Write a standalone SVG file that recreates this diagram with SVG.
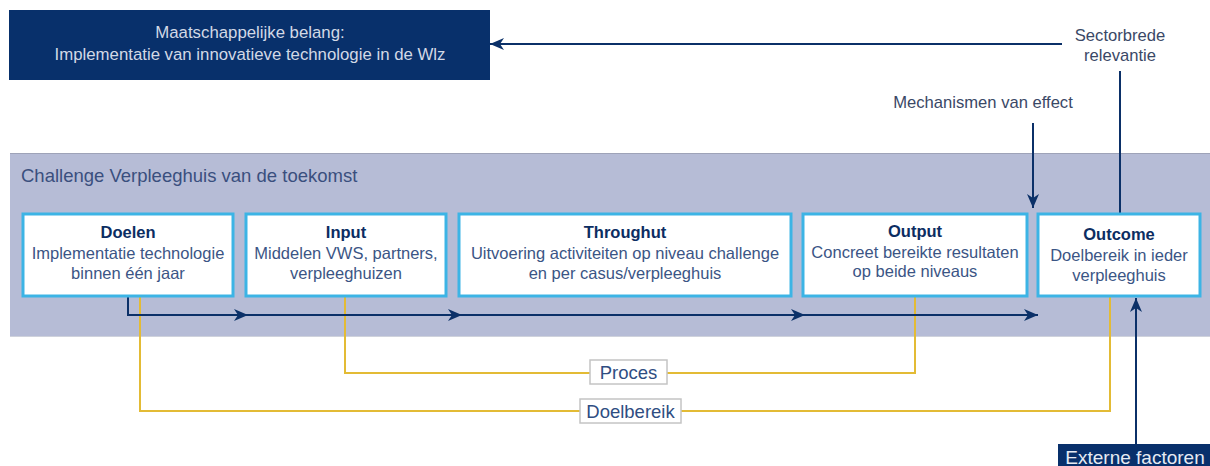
<svg xmlns="http://www.w3.org/2000/svg" width="1210" height="466" viewBox="0 0 1210 466">
<style>
text{font-family:"Liberation Sans",Arial,sans-serif}
.box{fill:#fff;stroke:#3cb4e5;stroke-width:3}
.t{font-size:16.5px;font-weight:bold;fill:#0c2d62;text-anchor:middle}
.s{font-size:16.5px;fill:#3b5585;text-anchor:middle}
.nav{stroke:#0b3068;stroke-width:2;fill:none}
.yel{stroke:#e3bb35;stroke-width:2;fill:none}
.lbl{fill:#fff;stroke:#c4c4c4;stroke-width:1.5}
.lt{font-size:18.5px;fill:#2f4d82;text-anchor:middle}
.g{font-size:16.6px;fill:#3a4866;text-anchor:middle}
</style>
<defs>
<marker id="ah" viewBox="0 0 14 12" refX="14" refY="6" markerWidth="14" markerHeight="12" markerUnits="userSpaceOnUse" orient="auto">
<path d="M0,0 L14,6 L0,12 L4,6 Z" fill="#0b3068"/>
</marker>
</defs>
<rect x="10" y="153" width="1200" height="184" fill="#b6bcd6"/>
<line x1="10" y1="153.5" x2="1210" y2="153.5" stroke="#9ea3b8" stroke-width="1"/>
<line x1="10" y1="336.5" x2="1210" y2="336.5" stroke="#cfd2dc" stroke-width="1"/>
<text x="21" y="182" font-size="18.5" fill="#3a4f7e">Challenge Verpleeghuis van de toekomst</text>
<g id="maatschappelijk">
<rect x="9" y="10" width="481" height="70" fill="#08306b"/>
<text x="250" y="38" font-size="16.8" fill="#d2d9e6" text-anchor="middle">Maatschappelijke belang:</text>
<text x="250" y="60" font-size="16.8" fill="#d2d9e6" text-anchor="middle">Implementatie van innovatieve technologie in de Wlz</text>
</g>
<g id="sectorbrede">
<text x="1120" y="41" class="g">Sectorbrede</text>
<text x="1120" y="61" class="g">relevantie</text>
</g>
<g id="mechanismen">
<text x="983" y="108" class="g">Mechanismen van effect</text>
</g>
<g id="connectors">
<line x1="1062" y1="44" x2="490" y2="44" class="nav" marker-end="url(#ah)"/>
<line x1="1120" y1="71" x2="1120" y2="213" class="nav"/>
<line x1="1033" y1="123" x2="1033" y2="208" class="nav" marker-end="url(#ah)"/>
<polyline points="140,296 140,411 1110,411 1110,296" class="yel"/>
<polyline points="345,296 345,373 915,373 915,296" class="yel"/>
<polyline points="128,296 128,315 248,315" class="nav" marker-end="url(#ah)"/>
<line x1="246" y1="315" x2="462" y2="315" class="nav" marker-end="url(#ah)"/>
<line x1="460" y1="315" x2="805" y2="315" class="nav" marker-end="url(#ah)"/>
<line x1="803" y1="315" x2="1038" y2="315" class="nav" marker-end="url(#ah)"/>
<line x1="1136" y1="444" x2="1136" y2="298" class="nav" marker-end="url(#ah)"/>
</g>
<g id="doelen">
<rect x="23" y="214" width="210" height="82" class="box"/>
<text x="128" y="238" class="t">Doelen</text>
<text x="128" y="259" class="s">Implementatie technologie</text>
<text x="128" y="279" class="s">binnen één jaar</text>
</g>
<g id="input">
<rect x="246" y="214" width="200" height="82" class="box"/>
<text x="346" y="238" class="t">Input</text>
<text x="346" y="259" class="s">Middelen VWS, partners,</text>
<text x="346" y="279" class="s">verpleeghuizen</text>
</g>
<g id="throughut">
<rect x="459" y="214" width="332" height="82" class="box"/>
<text x="625" y="238" class="t">Throughut</text>
<text x="625" y="259" class="s">Uitvoering activiteiten op niveau challenge</text>
<text x="625" y="279" class="s">en per casus/verpleeghuis</text>
</g>
<g id="output">
<rect x="803" y="214" width="224" height="82" class="box"/>
<text x="915" y="237" class="t">Output</text>
<text x="915" y="258" class="s">Concreet bereikte resultaten</text>
<text x="915" y="277" class="s">op beide niveaus</text>
</g>
<g id="outcome">
<rect x="1038" y="214" width="162" height="82" class="box"/>
<text x="1119" y="240" class="t">Outcome</text>
<text x="1119" y="261" class="s">Doelbereik in ieder</text>
<text x="1119" y="281" class="s">verpleeghuis</text>
</g>
<g id="proces">
<rect x="590" y="360" width="77" height="24" class="lbl"/>
<text x="628.5" y="379" class="lt">Proces</text>
</g>
<g id="doelbereik">
<rect x="580" y="399" width="101" height="24" class="lbl"/>
<text x="630.5" y="418" class="lt">Doelbereik</text>
</g>
<g id="externe">
<rect x="1058" y="444" width="152" height="22" fill="#08306b"/>
<text x="1135" y="464" font-size="19" fill="#e6ebf3" text-anchor="middle">Externe factoren</text>
</g>
</svg>
